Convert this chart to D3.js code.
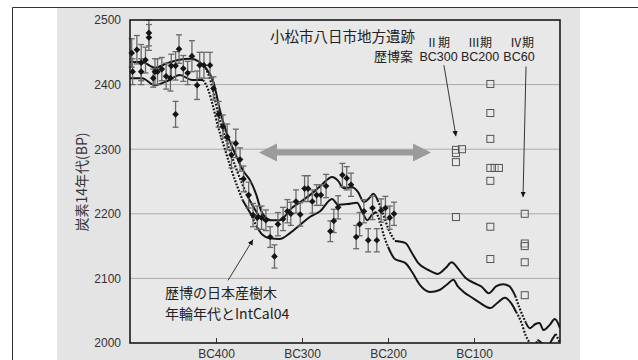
<!DOCTYPE html>
<html>
<head>
<meta charset="utf-8">
<script src="https://cdn.jsdelivr.net/npm/d3@7"></script>
<style>
  body { margin: 0; background: #fff; }
  svg { display: block; }
</style>
</head>
<body>
<svg id="chart" width="638" height="360"></svg>
<script>
// ---- axes ----
const yTicks = [2000, 2100, 2200, 2300, 2400, 2500];
const gridValues = [2100, 2200, 2300, 2400];
const xTicks = [-400, -300, -200, -100];
const xTickLabels = ["BC400", "BC300", "BC200", "BC100"];

// ---- measured tree-ring samples: calendar year (negative = BC), 14C age BP, 1σ ----
const sampleYears = [-498, -497, -492, -487, -487, -482, -478, -478, -473, -471, -468, -463, -458, -453, -452, -447, -447, -443, -438, -433, -428, -422, -419, -414, -407,
  -403, -397, -392, -387, -382, -377, -372, -368, -362, -357, -352, -347, -342, -337, -332, -328, -322, -317, -313, -307, -302, -297, -293, -288, -283, -278, -272,
  -267, -263, -258, -253, -248, -243, -237, -233, -228, -223, -218, -213, -208, -203, -198, -193];
const sampleBP = [2449, 2420, 2454, 2434, 2420, 2438, 2480, 2473, 2410, 2420, 2420, 2424, 2413, 2410, 2429, 2429, 2354, 2455, 2425, 2418, 2444, 2399, 2430, 2430, 2430,
  2394, 2354, 2335, 2319, 2291, 2309, 2284, 2254, 2229, 2198, 2194, 2194, 2190, 2164, 2134, 2184, 2192, 2204, 2200, 2219, 2199, 2239, 2239, 2219, 2229, 2229, 2243,
  2173, 2189, 2210, 2260, 2255, 2245, 2164, 2184, 2204, 2159, 2209, 2159, 2205, 2209, 2194, 2200];
const sampleErr = [22, 20, 22, 28, 20, 20, 20, 20, 14, 20, 20, 18, 20, 20, 18, 22, 20, 22, 20, 18, 24, 22, 20, 20, 20,
  18, 20, 18, 20, 20, 22, 18, 20, 20, 18, 18, 18, 16, 16, 18, 18, 18, 18, 18, 18, 18, 20, 20, 18, 16, 16, 18,
  16, 18, 18, 18, 18, 18, 18, 18, 18, 18, 18, 18, 18, 18, 18, 18];

// ---- calibration band (upper / lower edge) ----
const upperYears = [-500, -486, -471, -457, -444, -430, -419, -412, -406, -398, -388, -376, -364, -353, -347, -337, -326, -312, -300, -288, -277, -265, -258, -252,
  -242, -235, -228, -222, -217, -212, -206, -200, -192, -180, -172, -165, -153, -142, -133, -126, -119, -110, -100, -91, -83, -74, -66, -59, -52, -47, -40, -35,
  -29, -24, -19, -12, -6, 0];
const upperBP = [2435, 2435, 2426, 2433, 2438, 2440, 2435, 2426, 2404, 2358, 2314, 2268, 2229, 2203, 2193, 2190, 2190, 2209, 2220, 2232, 2245, 2257, 2251, 2240,
  2241, 2234, 2218, 2224, 2231, 2221, 2201, 2178, 2158, 2155, 2139, 2124, 2113, 2107, 2116, 2125, 2116, 2101, 2093, 2087, 2077, 2088, 2091, 2088, 2073, 2054, 2032, 2023,
  2029, 2031, 2020, 2028, 2037, 2023];
const lowerYears = [-500, -486, -471, -456, -442, -428, -415, -409, -403, -398, -391, -384, -376, -369, -360, -353, -347, -337, -326, -314, -302, -291, -279, -265,
  -258, -247, -236, -230, -224, -219, -214, -209, -205, -200, -192, -180, -172, -163, -151, -140, -131, -124, -119, -112, -102, -93, -81, -73, -64, -57, -51, -45,
  -40, -35, -29, -26, -21, -15, -8, -5, 0];
const lowerBP = [2410, 2410, 2399, 2406, 2415, 2407, 2407, 2392, 2364, 2337, 2306, 2276, 2245, 2221, 2201, 2181, 2169, 2162, 2161, 2170, 2183, 2195, 2204, 2223,
  2214, 2215, 2217, 2203, 2190, 2198, 2203, 2187, 2167, 2149, 2130, 2124, 2110, 2090, 2079, 2082, 2091, 2098, 2088, 2079, 2070, 2062, 2054, 2062, 2070, 2062, 2048, 2032,
  2012, 2000, 1995, 2005, 2000, 1995, 2008, 2014, 2000];
// smoothed tree-ring curve through the steep fall
const fallYears = [-412, -403, -395, -386, -376, -369, -360, -353, -347, -337];
const fallBP = [2426, 2404, 2358, 2319, 2288, 2268, 2251, 2229, 2203, 2190];

// ---- site samples (小松市八日市地方遺跡), grouped by phase ----
const phase2Years = [-121, -121, -114, -121, -121];
const phase2BP = [2299, 2294, 2300, 2280, 2195];
const phase3Years = [-81, -81, -81, -81, -76, -71, -81, -81, -81];
const phase3BP = [2401, 2356, 2316, 2271, 2271, 2271, 2251, 2180, 2130];
const phase4Years = [-41, -41, -41, -41, -41];
const phase4BP = [2200, 2154, 2150, 2125, 2074];

// ---- annotations (data coordinates) ----
const spanYears = [-350, -150];
const spanBP = 2295;

const svg = d3.select("#chart");
const W = 638, H = 360;
const M = { left: 130, right: 560, top: 20, bottom: 343 };

const x = d3.scaleLinear().domain([-500, 0]).range([M.left, M.right]);
const y = d3.scaleLinear().domain([2000, 2500]).range([M.bottom, M.top]);

const latin = "'Liberation Sans', Arial, sans-serif";
const cjk = "'Noto Sans CJK JP', 'Liberation Sans', sans-serif";

// page background and frame
svg.append("rect").attr("width", W).attr("height", H).attr("fill", "#fff");
svg.append("rect").attr("x", 57).attr("y", 7).attr("width", 523).attr("height", H - 7).attr("fill", "#e4e4e4");
svg.append("path").attr("d", `M12.5,${H}V7.5H${W}`).attr("fill", "none").attr("stroke", "#333").attr("stroke-width", 1);

const defs = svg.append("defs");
defs.append("clipPath").attr("id", "plotClip").append("rect")
  .attr("x", M.left).attr("y", M.top).attr("width", M.right - M.left).attr("height", M.bottom - M.top);
defs.append("marker").attr("id", "tip").attr("viewBox", "0 0 10 10")
  .attr("refX", 10).attr("refY", 5).attr("markerWidth", 6).attr("markerHeight", 6)
  .attr("orient", "auto").append("path").attr("d", "M0,0L10,5L0,10z").attr("fill", "#111");

svg.append("rect").attr("x", M.left).attr("y", M.top)
  .attr("width", M.right - M.left).attr("height", M.bottom - M.top).attr("fill", "#e8e8e8");

// gridlines
svg.append("g").selectAll("line").data(gridValues).join("line")
  .attr("x1", M.left).attr("x2", M.right)
  .attr("y1", d => y(d)).attr("y2", d => y(d))
  .attr("stroke", "#ababab").attr("stroke-width", 1);

// axes
const yAxis = svg.append("g").attr("transform", `translate(${M.left},0)`)
  .call(d3.axisLeft(y).tickValues(yTicks).tickSize(0).tickPadding(9).tickFormat(d3.format("d")));
yAxis.select(".domain").remove();
yAxis.selectAll("text").attr("font-family", latin).attr("font-size", 12).attr("fill", "#333");

const xAxis = svg.append("g").attr("transform", `translate(0,${M.bottom})`)
  .call(d3.axisBottom(x).tickValues(xTicks).tickFormat((d, i) => xTickLabels[i])
    .tickSizeInner(-5).tickSizeOuter(0).tickPadding(6));
xAxis.select(".domain").remove();
xAxis.selectAll("line").attr("stroke", "#333");
xAxis.selectAll("text").attr("font-family", latin).attr("font-size", 12).attr("fill", "#333");

// curves: dense sampled lines break into dots where they fall steeply
const plot = svg.append("g").attr("clip-path", "url(#plotClip)");
const line = d3.line().curve(d3.curveMonotoneX);
function drawCurve(years, values, alwaysSolid) {
  const pts = years.map((t, i) => [x(t), y(values[i])]);
  const runs = [];
  let cur = null;
  for (let i = 1; i < pts.length; i++) {
    const steep = !alwaysSolid &&
      Math.abs((pts[i][1] - pts[i - 1][1]) / (pts[i][0] - pts[i - 1][0])) > 1.8;
    if (!cur || cur.steep !== steep) { cur = { steep, pts: [pts[i - 1]] }; runs.push(cur); }
    cur.pts.push(pts[i]);
  }
  runs.forEach(r => {
    plot.append("path").attr("d", line(r.pts)).attr("fill", "none")
      .attr("stroke", "#151515").attr("stroke-width", r.steep ? 2.2 : 2)
      .attr("stroke-dasharray", r.steep ? "1.8 1.6" : null)
      .attr("stroke-linejoin", "round");
  });
}
drawCurve(upperYears, upperBP, false);
drawCurve(lowerYears, lowerBP, false);
drawCurve(fallYears, fallBP, true);

// error bars and sample markers
const samples = sampleYears.map((t, i) => ({ t, v: sampleBP[i], e: sampleErr[i] }));
const eb = svg.append("g").attr("stroke", "#6a6a6a").attr("stroke-width", 1.3);
samples.forEach(d => {
  const cx = x(d.t), y0 = y(d.v - d.e), y1 = y(d.v + d.e);
  eb.append("line").attr("x1", cx).attr("x2", cx).attr("y1", y0).attr("y2", y1);
  eb.append("line").attr("x1", cx - 3).attr("x2", cx + 3).attr("y1", y0).attr("y2", y0);
  eb.append("line").attr("x1", cx - 3).attr("x2", cx + 3).attr("y1", y1).attr("y2", y1);
});
svg.append("g").selectAll("path").data(samples).join("path")
  .attr("d", d3.symbol(d3.symbolSquare, 22))
  .attr("transform", d => `translate(${x(d.t)},${y(d.v)}) rotate(45)`)
  .attr("fill", "#151515");

// site samples
const sites = []
  .concat(phase2Years.map((t, i) => ({ t, v: phase2BP[i] })))
  .concat(phase3Years.map((t, i) => ({ t, v: phase3BP[i] })))
  .concat(phase4Years.map((t, i) => ({ t, v: phase4BP[i] })));
svg.append("g").selectAll("rect").data(sites).join("rect")
  .attr("x", d => x(d.t) - 3.5).attr("y", d => y(d.v) - 3.5)
  .attr("width", 7).attr("height", 7)
  .attr("fill", "#ececec").attr("fill-opacity", 0.35)
  .attr("stroke", "#555").attr("stroke-width", 1);

// grey double arrow across the plateau
{
  const x1 = x(spanYears[0]), x2 = x(spanYears[1]), yc = y(spanBP);
  const hl = 18, hh = 9, bh = 3;
  const pts = [[x1, yc], [x1 + hl, yc - hh], [x1 + hl, yc - bh], [x2 - hl, yc - bh], [x2 - hl, yc - hh],
    [x2, yc], [x2 - hl, yc + hh], [x2 - hl, yc + bh], [x1 + hl, yc + bh], [x1 + hl, yc + hh]];
  svg.append("path").attr("d", "M" + pts.join("L") + "Z").attr("fill", "#9b9b9b");
}

// plot frame
svg.append("rect").attr("x", M.left).attr("y", M.top)
  .attr("width", M.right - M.left).attr("height", M.bottom - M.top)
  .attr("fill", "none").attr("stroke", "#1a1a1a").attr("stroke-width", 1.6);

// annotation arrows
const arrows = [
  { from: [-135, 2430], to: [-121, 2320] },
  { from: [-39.5, 2428], to: [-43, 2226] },
  { from: [-386, 2097], to: [-357, 2160] }
];
svg.append("g").selectAll("line").data(arrows).join("line")
  .attr("x1", d => x(d.from[0])).attr("y1", d => y(d.from[1]))
  .attr("x2", d => x(d.to[0])).attr("y2", d => y(d.to[1]))
  .attr("stroke", "#222").attr("stroke-width", 0.9).attr("marker-end", "url(#tip)");

// labels
const txt = (s, px, py, size, fam, anchor) => svg.append("text")
  .attr("x", px).attr("y", py).attr("font-size", size).attr("font-family", fam)
  .attr("text-anchor", anchor || "start").attr("fill", "#222").text(s);

txt("小松市八日市地方遺跡", 270, 42, 14.5, cjk);
txt("歴博案", 413, 61, 13, cjk, "end");
txt("Ⅱ期", 438, 47, 12, cjk, "middle");
txt("Ⅲ期", 480, 47, 12, cjk, "middle");
txt("Ⅳ期", 522, 47, 12, cjk, "middle");
txt("BC300", 438.5, 61, 12.5, latin, "middle");
txt("BC200", 480, 61, 12.5, latin, "middle");
txt("BC60", 519, 61, 12.5, latin, "middle");

// two-line caption for the calibration curves
txt("歴博の日本産樹木", 165, 298, 14, cjk);
txt("年輪年代とIntCal04", 165, 318.5, 14, cjk);

svg.append("text")
  .attr("transform", "translate(87,182) rotate(-90)")
  .attr("text-anchor", "middle").attr("font-size", 14).attr("font-family", cjk)
  .attr("fill", "#333").text("炭素14年代(BP)");
</script>
</body>
</html>
